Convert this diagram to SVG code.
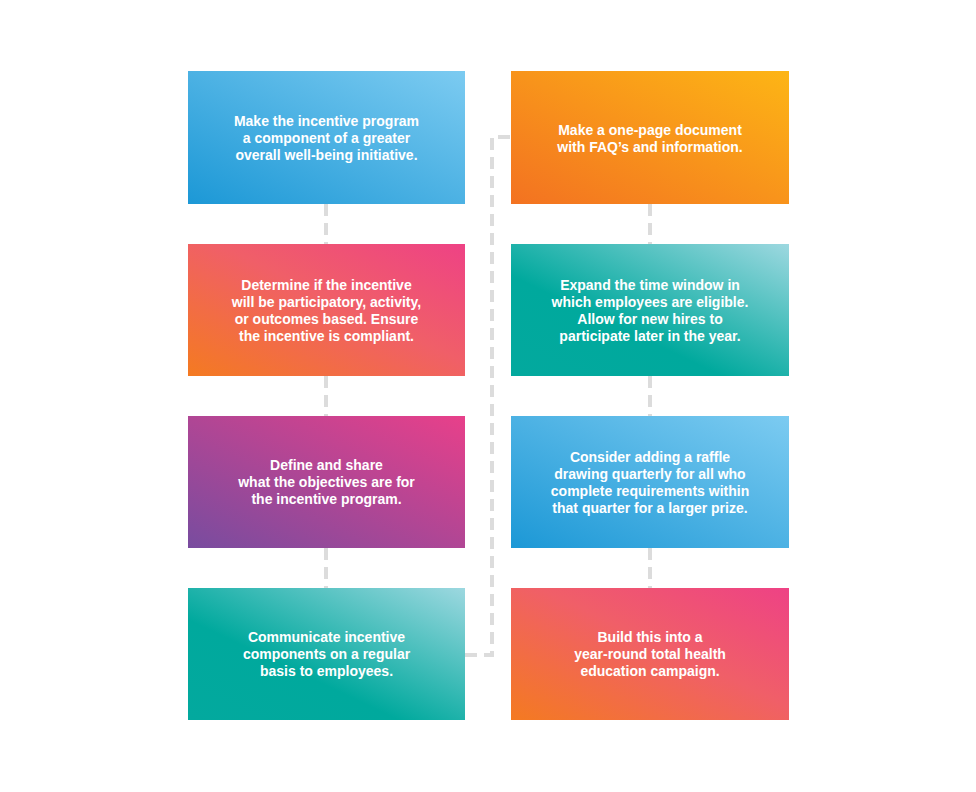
<svg xmlns="http://www.w3.org/2000/svg" width="976" height="792" viewBox="0 0 976 792">
<defs>
<linearGradient id="gBlue" x1="0" y1="1" x2="1" y2="0"><stop offset="0" stop-color="#1c98d6"/><stop offset="1" stop-color="#7ccbf1"/></linearGradient>
<linearGradient id="gRed" x1="0" y1="1" x2="1" y2="0"><stop offset="0" stop-color="#f47a21"/><stop offset="0.55" stop-color="#f05f68"/><stop offset="1" stop-color="#ee4285"/></linearGradient>
<linearGradient id="gPurple" x1="0" y1="1" x2="1" y2="0"><stop offset="0" stop-color="#784c9f"/><stop offset="1" stop-color="#e8408a"/></linearGradient>
<linearGradient id="gTeal" x1="0" y1="1" x2="1" y2="0"><stop offset="0" stop-color="#03a99e"/><stop offset="0.38" stop-color="#00a99d"/><stop offset="1" stop-color="#9dd8e0"/></linearGradient>
<linearGradient id="gOrange" x1="0" y1="1" x2="1" y2="0"><stop offset="0" stop-color="#f37221"/><stop offset="1" stop-color="#fdb515"/></linearGradient>
</defs>
<style>
.lbl{font-family:"Liberation Sans",Arial,sans-serif;font-weight:bold;font-size:14px;fill:#ffffff;text-anchor:middle}
.con{fill:none;stroke:#dcdcdc;stroke-width:4;stroke-dasharray:12 7}
</style>
<rect width="976" height="792" fill="#ffffff"/>
<g id="connectors">
<line class="con" x1="326" y1="204" x2="326" y2="244"/>
<line class="con" x1="326" y1="376" x2="326" y2="416"/>
<line class="con" x1="326" y1="548" x2="326" y2="588"/>
<line class="con" x1="650" y1="204" x2="650" y2="244"/>
<line class="con" x1="650" y1="376" x2="650" y2="416"/>
<line class="con" x1="650" y1="548" x2="650" y2="588"/>
<polyline class="con" points="465,655 492,655 492,137 511,137"/>
</g>
<g id="node1">
<rect x="188" y="71" width="277" height="133" fill="url(#gBlue)"/>
<text class="lbl" x="326.5"><tspan x="326.5" y="126">Make the incentive program</tspan><tspan x="326.5" y="143">a component of a greater</tspan><tspan x="326.5" y="160">overall well-being initiative.</tspan></text>
</g>
<g id="node2">
<rect x="188" y="244" width="277" height="132" fill="url(#gRed)"/>
<text class="lbl"><tspan x="326.5" y="290">Determine if the incentive</tspan><tspan x="326.5" y="307">will be participatory, activity,</tspan><tspan x="326.5" y="324">or outcomes based. Ensure</tspan><tspan x="326.5" y="341">the incentive is compliant.</tspan></text>
</g>
<g id="node3">
<rect x="188" y="416" width="277" height="132" fill="url(#gPurple)"/>
<text class="lbl"><tspan x="326.5" y="470">Define and share</tspan><tspan x="326.5" y="487">what the objectives are for</tspan><tspan x="326.5" y="504">the incentive program.</tspan></text>
</g>
<g id="node4">
<rect x="188" y="588" width="277" height="132" fill="url(#gTeal)"/>
<text class="lbl"><tspan x="326.5" y="642">Communicate incentive</tspan><tspan x="326.5" y="659">components on a regular</tspan><tspan x="326.5" y="676">basis to employees.</tspan></text>
</g>
<g id="node5">
<rect x="511" y="71" width="278" height="133" fill="url(#gOrange)"/>
<text class="lbl"><tspan x="650" y="135">Make a one-page document</tspan><tspan x="650" y="152">with FAQ’s and information.</tspan></text>
</g>
<g id="node6">
<rect x="511" y="244" width="278" height="132" fill="url(#gTeal)"/>
<text class="lbl"><tspan x="650" y="290">Expand the time window in</tspan><tspan x="650" y="307">which employees are eligible.</tspan><tspan x="650" y="324">Allow for new hires to</tspan><tspan x="650" y="341">participate later in the year.</tspan></text>
</g>
<g id="node7">
<rect x="511" y="416" width="278" height="132" fill="url(#gBlue)"/>
<text class="lbl"><tspan x="650" y="462">Consider adding a raffle</tspan><tspan x="650" y="479">drawing quarterly for all who</tspan><tspan x="650" y="496">complete requirements within</tspan><tspan x="650" y="513">that quarter for a larger prize.</tspan></text>
</g>
<g id="node8">
<rect x="511" y="588" width="278" height="132" fill="url(#gRed)"/>
<text class="lbl"><tspan x="650" y="642">Build this into a</tspan><tspan x="650" y="659">year-round total health</tspan><tspan x="650" y="676">education campaign.</tspan></text>
</g>
</svg>
